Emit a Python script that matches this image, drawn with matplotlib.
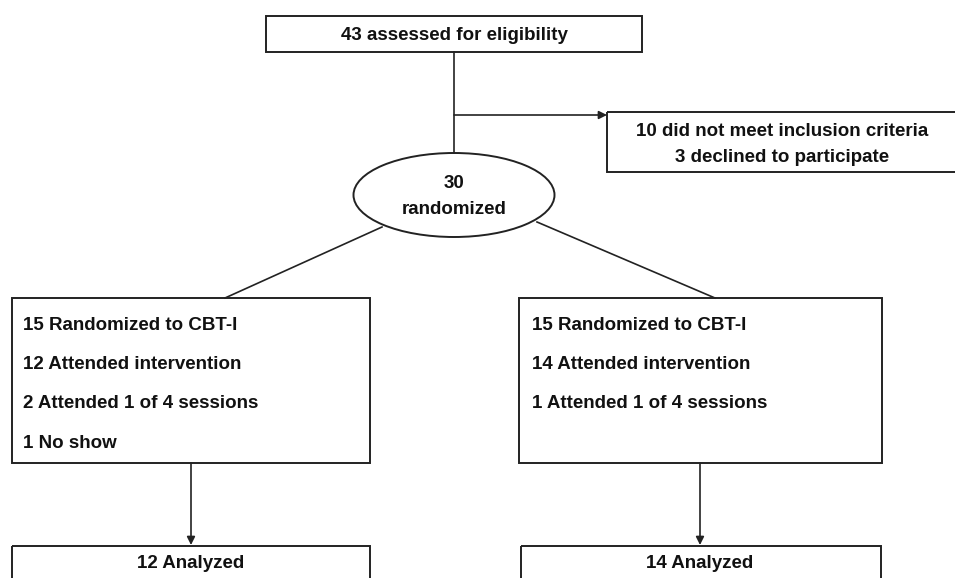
import matplotlib.pyplot as plt
from matplotlib.patches import Rectangle, Ellipse

# 流程图文字
top_text = "43 assessed for eligibility"
excluded_lines = ["10 did not meet inclusion criteria", "3 declined to participate"]
random_lines = ["30", "randomized"]
left_lines = ["15 Randomized to CBT-I", "12 Attended intervention",
              "2 Attended 1 of 4 sessions", "1 No show"]
right_lines = ["15 Randomized to CBT-I", "14 Attended intervention",
               "1 Attended 1 of 4 sessions"]
analyzed = ["12 Analyzed", "14 Analyzed"]

plt.rcParams['font.family'] = ['Liberation Sans', 'DejaVu Sans']
fig = plt.figure(figsize=(9.55, 5.78), dpi=100)
ax = fig.add_axes([0, 0, 1, 1])
ax.set_xlim(0, 955)
ax.set_ylim(578, 0)
ax.axis('off')

lc = '#222222'
lw = 1.4
fs = 13.5


def box(x0, y0, x1, y1):
    ax.add_patch(Rectangle((x0, y0), x1 - x0, y1 - y0, fill=False, ec=lc, lw=lw))


def arrow(x0, y0, x1, y1):
    ax.annotate('', xy=(x1, y1), xytext=(x0, y0),
                arrowprops=dict(arrowstyle='-|>', color=lc, lw=1.2, mutation_scale=12,
                                shrinkA=0, shrinkB=0))


def label(x, y, s, ha='center'):
    ax.text(x, y, s, ha=ha, va='center', fontsize=fs, fontweight='bold', color='#111111')


# 顶部
box(266, 16, 642, 52)
label(454, 35, top_text)

ax.plot([454, 454], [52, 153], color=lc, lw=1.2)
arrow(454, 115, 607, 115)

# 排除
box(607, 112, 962, 172)
for i, s in enumerate(excluded_lines):
    label(782, 132 + i * 25, s)

# 随机
ax.add_patch(Ellipse((454, 195), 201, 84, fill=False, ec=lc, lw=lw))
label(454, 184, random_lines[0])
label(454, 210, random_lines[1])

ax.plot([382, 225], [227, 298], color=lc, lw=1.2)
ax.plot([537, 715], [222, 298], color=lc, lw=1.2)

# 两组
box(12, 298, 370, 463)
for i, s in enumerate(left_lines):
    label(23, 325 + i * 39.5, s, ha='left')
box(519, 298, 882, 463)
for i, s in enumerate(right_lines):
    label(532, 325 + i * 39.5, s, ha='left')

arrow(191, 463, 191, 545)
arrow(700, 463, 700, 545)

# 分析
box(12, 546, 370, 590)
box(521, 546, 881, 590)
label(191, 563, analyzed[0])
label(700, 563, analyzed[1])

plt.savefig('out.png', dpi=100)
